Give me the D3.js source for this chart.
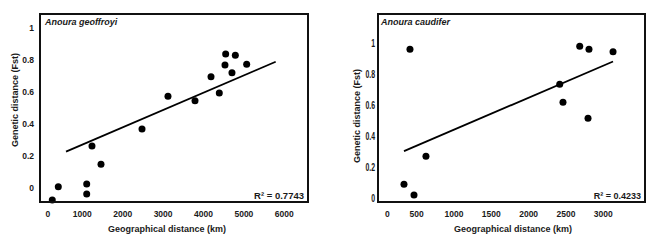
<!DOCTYPE html>
<html>
<head>
<meta charset="utf-8">
<script src="https://cdn.jsdelivr.net/npm/d3@7"></script>
<style>
  html, body { margin: 0; padding: 0; background: #fff; }
  svg { display: block; }
  text { font-family: "Liberation Sans", Arial, sans-serif; fill: #1a1a1a; }
</style>
</head>
<body>
<svg id="chart" width="653" height="243"></svg>
<script>
// ---- Data ----
const geoffroyiDistKm = [257, 406, 1109, 1109, 1240, 1463, 2478, 3121, 3790, 4186, 4391, 4532, 4549, 4705, 4788, 5069];
const geoffroyiFst    = [-0.075, 0.008, 0.025, -0.038, 0.263, 0.148, 0.369, 0.573, 0.546, 0.696, 0.594, 0.769, 0.838, 0.721, 0.829, 0.773];
const geoffroyiTrendX = [597, 5787];
const geoffroyiTrendY = [0.227, 0.789];
const geoffroyiXTicks = [0, 1000, 2000, 3000, 4000, 5000, 6000];
const geoffroyiYTicks = [0, 0.2, 0.4, 0.6, 0.8, 1];
const geoffroyiYTickLabels = ["0", "0.2", "0.4", "0.6", "0.8", "1"];

const caudiferDistKm = [331, 411, 465, 625, 2416, 2460, 2684, 2795, 2808, 3130];
const caudiferFst    = [0.089, 0.962, 0.020, 0.270, 0.736, 0.619, 0.981, 0.516, 0.962, 0.946];
const caudiferTrendX = [331, 3130];
const caudiferTrendY = [0.304, 0.882];
const caudiferXTicks = [0, 500, 1000, 1500, 2000, 2500, 3000];
const caudiferYTicks = [0, 0.2, 0.4, 0.6, 0.8, 1];
const caudiferYTickLabels = ["0", "0.2", "0.4", "0.6", "0.8", "1"];

const svg = d3.select("#chart");

function panel(cfg) {
  const g = svg.append("g");
  const x = d3.scaleLinear().domain(cfg.xDomain).range([cfg.left, cfg.right]);
  const y = d3.scaleLinear().domain(cfg.yDomain).range([cfg.bottom, cfg.top]);

  // trend line
  g.append("line")
    .attr("x1", x(cfg.trendX[0])).attr("y1", y(cfg.trendY[0]))
    .attr("x2", x(cfg.trendX[1])).attr("y2", y(cfg.trendY[1]))
    .attr("stroke", "#000").attr("stroke-width", 1.8);

  // points
  g.selectAll("circle.pt").data(cfg.xs.map((v, i) => [v, cfg.ys[i]]))
    .enter().append("circle").attr("class", "pt")
    .attr("cx", d => x(d[0])).attr("cy", d => y(d[1]))
    .attr("r", 3.5).attr("fill", "#000");

  // frame
  g.append("rect")
    .attr("x", cfg.left).attr("y", cfg.top)
    .attr("width", cfg.right - cfg.left).attr("height", cfg.bottom - cfg.top)
    .attr("fill", "none").attr("stroke", "#111").attr("stroke-width", 2);

  // x tick labels
  g.selectAll("text.xt").data(cfg.xTicks).enter().append("text").attr("class", "xt")
    .attr("x", (d, i) => x(d) + (i === 0 ? cfg.zeroShift : 0))
    .attr("y", 217)
    .attr("text-anchor", "middle")
    .attr("font-size", 8.5).attr("font-weight", "bold")
    .text(d => d);

  // y tick labels
  const yt = g.selectAll("text.yt").data(cfg.yTicks).enter().append("text").attr("class", "yt")
    .attr("text-anchor", "end")
    .attr("font-weight", "bold")
    .text((d, i) => cfg.yTickLabels[i]);
  if (cfg.narrowY) {
    yt.attr("font-size", 11.5)
      .attr("transform", d => `translate(${cfg.yLabelX},${y(d) + 4}) scale(0.6,1)`)
      .attr("x", 0).attr("y", 0);
  } else {
    yt.attr("font-size", 8.5).attr("x", cfg.yLabelX).attr("y", d => y(d) + 3);
  }

  // title
  g.append("text").attr("x", cfg.left + cfg.titleDx).attr("y", cfg.top + 11)
    .attr("font-size", 9).attr("font-weight", "bold").attr("font-style", "italic")
    .text(cfg.title);

  // R²
  g.append("text").attr("x", cfg.right - 4).attr("y", cfg.bottom - 3)
    .attr("text-anchor", "end")
    .attr("font-size", cfg.rFont).attr("font-weight", "bold")
    .text(cfg.r2);

  // axis titles
  g.append("text").attr("x", cfg.xTitleX).attr("y", 232)
    .attr("text-anchor", "middle").attr("font-size", 9).attr("font-weight", "bold")
    .text("Geographical distance (km)");
  g.append("text")
    .attr("transform", `translate(${cfg.yTitleX},${cfg.yTitleY}) rotate(-90)`)
    .attr("text-anchor", "middle").attr("font-size", 9).attr("font-weight", "bold")
    .text("Genetic distance (Fst)");
}

panel({
  left: 40, right: 308, top: 14, bottom: 202,
  xDomain: [-47, 6587], yDomain: [-0.0875, 1.0875],
  xs: geoffroyiDistKm, ys: geoffroyiFst,
  trendX: geoffroyiTrendX, trendY: geoffroyiTrendY,
  xTicks: geoffroyiXTicks, yTicks: geoffroyiYTicks, yTickLabels: geoffroyiYTickLabels,
  zeroShift: 6, yLabelX: 34, narrowY: false,
  title: "Anoura geoffroyi", titleDx: 5,
  r2: "R² = 0.7743", rFont: 9.5,
  xTitleX: 167, yTitleX: 18, yTitleY: 100
});

panel({
  left: 378, right: 645, top: 14, bottom: 202,
  xDomain: [-17, 3558], yDomain: [-0.025, 1.189],
  xs: caudiferDistKm, ys: caudiferFst,
  trendX: caudiferTrendX, trendY: caudiferTrendY,
  xTicks: caudiferXTicks, yTicks: caudiferYTicks, yTickLabels: caudiferYTickLabels,
  zeroShift: 8, yLabelX: 375, narrowY: true,
  title: "Anoura caudifer", titleDx: 3,
  r2: "R² = 0.4233", rFont: 9,
  xTitleX: 513, yTitleX: 360, yTitleY: 116
});
</script>
</body>
</html>
